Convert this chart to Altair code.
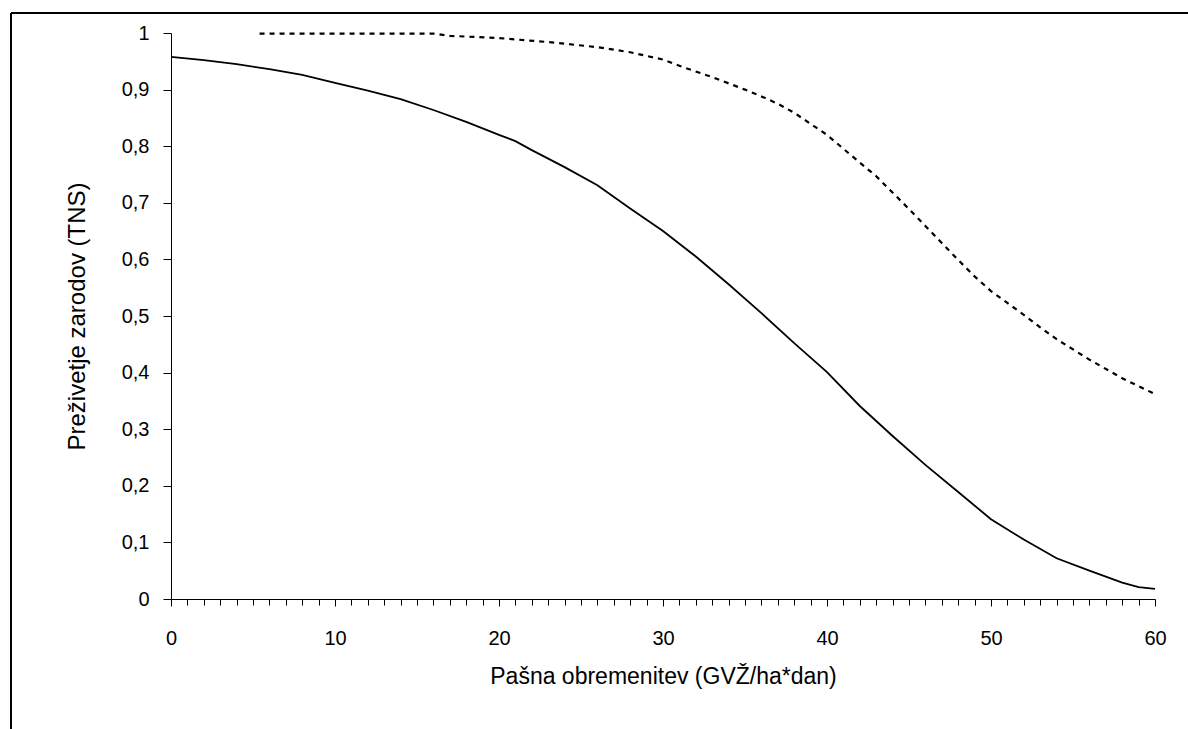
import altair as alt
import pandas as pd

# Solid curve: survival vs. grazing load
x_solid = [0, 2, 4, 6, 8, 10, 12, 14, 16, 18, 20, 21, 22, 24, 26, 28, 30, 32, 34, 36,
           38, 40, 42, 44, 46, 48, 50, 52, 54, 56, 58, 59, 60]
y_solid = [0.958, 0.952, 0.945, 0.936, 0.926, 0.912, 0.898, 0.883, 0.864, 0.843, 0.820,
           0.809, 0.793, 0.763, 0.731, 0.690, 0.650, 0.605, 0.556, 0.505, 0.452, 0.401,
           0.341, 0.288, 0.237, 0.189, 0.141, 0.105, 0.072, 0.050, 0.029, 0.021, 0.018]

# Dashed curve
x_dash = [5.4, 16, 17, 20, 23, 26, 28, 30, 31, 33, 35, 36, 37, 38, 40, 42, 43, 45, 46, 47,
          48, 49, 50, 51, 52, 53, 54, 56, 58, 60]
y_dash = [0.999, 0.999, 0.995, 0.991, 0.984, 0.975, 0.966, 0.953, 0.942, 0.922, 0.900,
          0.888, 0.875, 0.859, 0.820, 0.771, 0.747, 0.689, 0.659, 0.629, 0.599, 0.570,
          0.544, 0.523, 0.502, 0.480, 0.459, 0.423, 0.390, 0.362]

x_ticks = list(range(0, 61))
y_ticks = [0, 0.1, 0.2, 0.3, 0.4, 0.5, 0.6, 0.7, 0.8, 0.9, 1]

FONT = "Liberation Sans"
W, H = 984, 566

solid_df = pd.DataFrame({"x": x_solid, "y": y_solid})
dash_df = pd.DataFrame({"x": x_dash, "y": y_dash})

x_enc = alt.X(
    "x:Q",
    scale=alt.Scale(domain=[0, 60], nice=False, zero=False),
    axis=alt.Axis(
        values=x_ticks,
        tickCount=len(x_ticks),
        labelExpr="datum.value % 10 === 0 ? datum.label : ''",
        tickSize=alt.expr("datum.value % 10 === 0 ? 7 : 6"),
        labelPadding=22,
        labelFontSize=20,
        labelOverlap=False,
        labelFlush=False,
        title="Pašna obremenitev (GVŽ/ha*dan)",
        titleFontSize=23,
        titleY=77,
        titleBaseline="middle",
    ),
)
y_enc = alt.Y(
    "y:Q",
    scale=alt.Scale(domain=[0, 1], nice=False),
    axis=alt.Axis(
        values=y_ticks,
        tickCount=len(y_ticks),
        labelExpr="replace(format(datum.value, '.1~f'), '.', ',')",
        tickSize=8,
        labelPadding=14,
        labelFontSize=20,
        title="Preživetje zarodov (TNS)",
        titleFontSize=24,
        titleAngle=-90,
        titleX=-94,
        titleY=H / 2,
        titleAlign="center",
        titleBaseline="middle",
    ),
)

solid = alt.Chart(solid_df).mark_line(color="black", strokeWidth=1.8).encode(x=x_enc, y=y_enc)
dashed = alt.Chart(dash_df).mark_line(
    color="black", strokeWidth=2.2, strokeDash=[5, 5]
).encode(x="x:Q", y="y:Q")

# Outer frame (top and left edges)
frame_df = pd.DataFrame({"k": [0]})
frame_top = alt.Chart(frame_df).mark_rule(color="black", strokeWidth=2).encode(
    x=alt.value(-160), x2=alt.value(1040), y=alt.value(-20)
)
frame_left = alt.Chart(frame_df).mark_rule(color="black", strokeWidth=2).encode(
    x=alt.value(-160), y=alt.value(-20), y2=alt.value(720)
)

chart = alt.layer(solid, dashed, frame_top, frame_left).properties(
    width=W,
    height=H,
    autosize=alt.AutoSizeParams(type="none"),
    padding={"left": 171, "top": 33, "right": 33, "bottom": 130},
).configure_view(stroke=None).configure_axis(
    grid=False,
    domainColor="black",
    tickColor="black",
    labelColor="black",
    titleColor="black",
    labelFont=FONT,
    titleFont=FONT,
    titleFontWeight="normal",
    domainWidth=1,
    tickWidth=1,
)

chart.save("out.html", embed_options={"renderer": "svg", "actions": False})
